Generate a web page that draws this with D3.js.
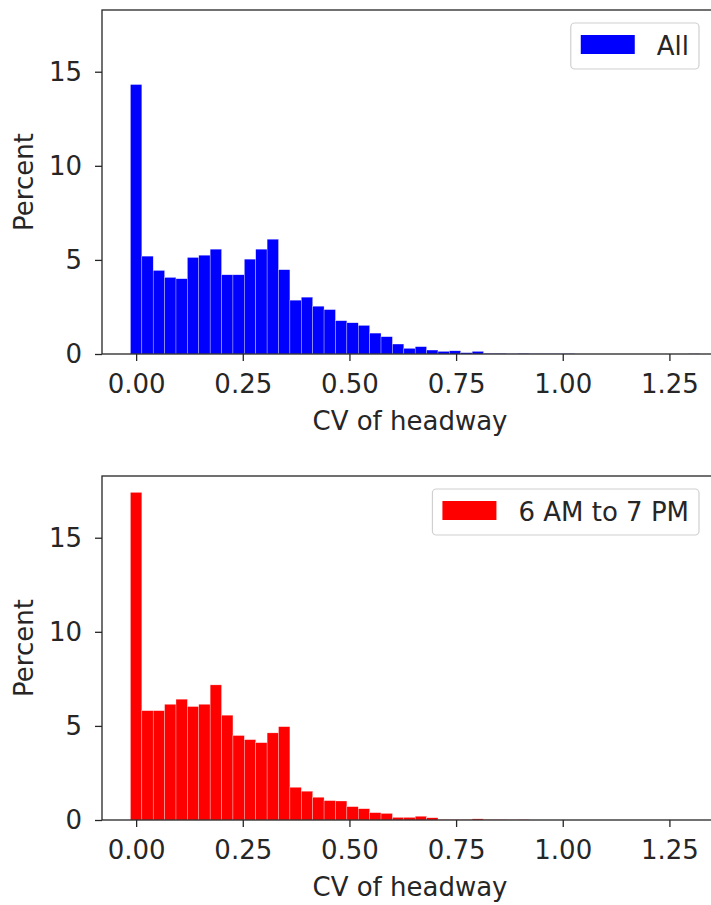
<!DOCTYPE html>
<html>
<head>
<meta charset="utf-8">
<script src="https://cdn.jsdelivr.net/npm/d3@7"></script>
<style>
  html, body { margin: 0; padding: 0; background: #fff; }
  svg { display: block; font-family: 'DejaVu Sans', sans-serif; }
</style>
</head>
<body>
<svg id="chart" width="711" height="905"></svg>
<script>
// histogram bins: 50 bins of equal width, centred on 0, w, 2w, ...
const binWidth = 0.0267
const xTicks = [0, 0.25, 0.5, 0.75, 1.0, 1.25]
const yTicks = [0, 5, 10, 15]

// percent of trips per bin
const allValues = [
  14.32, 5.2, 4.44, 4.07, 4.0, 5.13, 5.25, 5.57, 4.21, 4.21,
  5.04, 5.57, 6.1, 4.48, 2.86, 3.02, 2.54, 2.36, 1.77, 1.66,
  1.52, 1.11, 0.92, 0.53, 0.3, 0.39, 0.21, 0.14, 0.17, 0.07,
  0.14, 0.03, 0.03, 0.01, 0.03, 0.01, 0.01, 0.01, 0.02, 0.0,
  0.0, 0.0, 0.0, 0.0, 0.0, 0.0, 0.0, 0.0, 0.0, 0.01
]
const dayValues = [
  17.41, 5.81, 5.81, 6.15, 6.42, 6.03, 6.15, 7.18, 5.57, 4.49,
  4.27, 4.11, 4.63, 4.96, 1.74, 1.53, 1.21, 1.03, 1.01, 0.71,
  0.6, 0.39, 0.35, 0.14, 0.14, 0.2, 0.12, 0.02, 0.02, 0.02,
  0.06, 0.02, 0.02, 0.01, 0.02, 0.0, 0.0, 0.0, 0.0, 0.0,
  0.0, 0.0, 0.0, 0.0, 0.0, 0.0, 0.0, 0.0, 0.0, 0.0
]

const panels = [
  { values: allValues, color: '#0000ff', label: 'All', top: 10, bottom: 354 },
  { values: dayValues, color: '#ff0000', label: '6 AM to 7 PM', top: 476, bottom: 820 },
]

const left = 102
const right = 727
const fontSize = 26
const ink = '#262626'

const svg = d3.select('#chart')

const x = d3.scaleLinear().domain([-0.08, 1.385]).range([left, right])

panels.forEach((p) => {
  const y = d3.scaleLinear().domain([0, 18.28]).range([p.bottom, p.top])
  const g = svg.append('g')

  g.append('g')
    .selectAll('rect')
    .data(p.values)
    .join('rect')
    .attr('x', (d, i) => x(i * binWidth - binWidth / 2))
    .attr('width', x(binWidth) - x(0))
    .attr('y', (d) => y(d))
    .attr('height', (d) => y(0) - y(d))
    .attr('fill', p.color)
    .attr('stroke', '#fff')
    .attr('stroke-opacity', 0.6)
    .attr('stroke-width', 0.5)

  // spines
  g.append('rect')
    .attr('x', left)
    .attr('y', p.top)
    .attr('width', right - left)
    .attr('height', p.bottom - p.top)
    .attr('fill', 'none')
    .attr('stroke', ink)
    .attr('stroke-width', 1.3)

  const xAxis = g
    .append('g')
    .attr('transform', `translate(0,${p.bottom})`)
    .call(
      d3.axisBottom(x).tickValues(xTicks).tickFormat(d3.format('.2f')).tickSize(7).tickPadding(14)
    )
  const yAxis = g
    .append('g')
    .attr('transform', `translate(${left},0)`)
    .call(d3.axisLeft(y).tickValues(yTicks).tickSize(7).tickPadding(13))

  ;[xAxis, yAxis].forEach((a) => {
    a.select('.domain').remove()
    a.selectAll('line').attr('stroke', ink).attr('stroke-width', 1.3)
    a.selectAll('text')
      .attr('fill', ink)
      .style('font-size', fontSize + 'px')
      .style('font-family', "'DejaVu Sans', sans-serif")
  })

  g.append('text')
    .attr('x', 410)
    .attr('y', p.bottom + 76)
    .attr('text-anchor', 'middle')
    .attr('fill', ink)
    .style('font-size', fontSize + 'px')
    .text('CV of headway')

  g.append('text')
    .attr('transform', `translate(33,${(p.top + p.bottom) / 2}) rotate(-90)`)
    .attr('text-anchor', 'middle')
    .attr('fill', ink)
    .style('font-size', fontSize + 'px')
    .text('Percent')

  // legend, anchored to the upper right corner
  const legend = g.append('g')
  const label = legend
    .append('text')
    .attr('fill', ink)
    .style('font-size', fontSize + 'px')
    .text(p.label)
  const tw = label.node().getComputedTextLength()
  const boxRight = 699
  const boxTop = p.top + 13
  const boxH = 46
  const boxW = tw + 96
  legend
    .insert('rect', 'text')
    .attr('x', boxRight - boxW)
    .attr('y', boxTop)
    .attr('width', boxW)
    .attr('height', boxH)
    .attr('rx', 4)
    .attr('fill', '#fff')
    .attr('fill-opacity', 0.8)
    .attr('stroke', '#d0d0d0')
    .attr('stroke-width', 1.2)
  legend
    .insert('rect', 'text')
    .attr('x', boxRight - boxW + 10)
    .attr('y', boxTop + 12)
    .attr('width', 54)
    .attr('height', 19)
    .attr('fill', p.color)
  label.attr('x', boxRight - boxW + 86).attr('y', boxTop + 32)
})
</script>
</body>
</html>
